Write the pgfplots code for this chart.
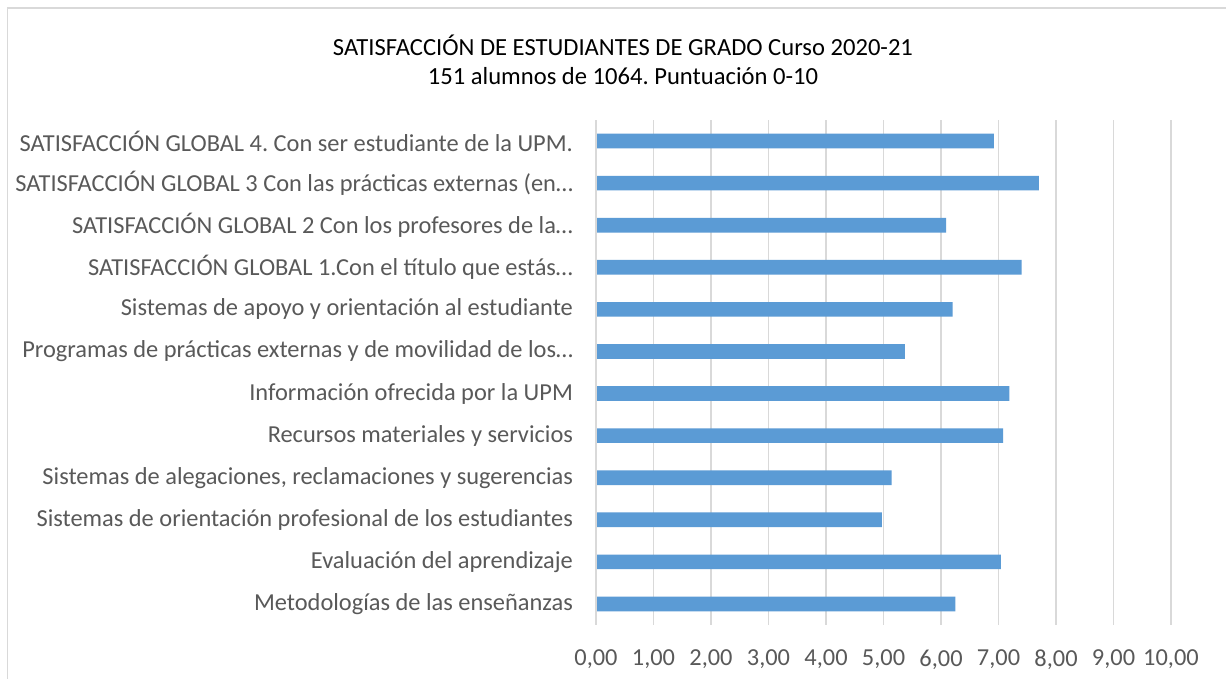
\documentclass[border=0pt]{standalone}
\usepackage{fontspec}
\setmainfont{Carlito}
\usepackage{pgfplots}
\pgfplotsset{compat=1.18}
\usepackage{pgfplotstable}
\frenchspacing
\definecolor{barblue}{HTML}{5B9BD5}
\definecolor{gridgray}{HTML}{D9D9D9}
\definecolor{labgray}{HTML}{595959}
\pgfplotstableread{
idx val
0 6.25
1 7.04
2 4.97
3 5.14
4 7.08
5 7.19
6 5.37
7 6.20
8 7.40
9 6.09
10 7.70
11 6.92
}\datatable
\begin{document}
\begin{tikzpicture}
\useasboundingbox (0pt,0pt) rectangle (613pt,339.5pt);
\fill[white] (0pt,0pt) rectangle (613pt,339.5pt);
\draw[gridgray,line width=0.75pt] (3.75pt,-5pt) -- (3.75pt,335.5pt) -- (620pt,335.5pt);
\node[font=\fontsize{12.3}{14}\selectfont,text=black] at (311.5pt,317pt) {SATISFACCIÓN DE ESTUDIANTES DE GRADO Curso 2020-21};
\node[font=\fontsize{12.3}{14}\selectfont,text=black] at (311.5pt,301.5pt) {151 alumnos de 1064. Puntuación 0-10};
\begin{axis}[
  at={(298pt,27pt)}, anchor=south west,
  scale only axis, width=287.5pt, height=252.5pt,
  xbar, bar width=7.35pt,
  xmin=0, xmax=10, ymin=-0.5, ymax=11.5,
  xtick={0,1,...,10},
  ytick={0,1,...,11},
  yticklabels={
    Metodologías de las enseñanzas,
    Evaluación del aprendizaje,
    Sistemas de orientación profesional de los estudiantes,
    {Sistemas de alegaciones, reclamaciones y sugerencias},
    Recursos materiales y servicios,
    Información ofrecida por la UPM,
    Programas de prácticas externas y de movilidad de los…,
    Sistemas de apoyo y orientación al estudiante,
    SATISFACCIÓN GLOBAL 1.Con el título que estás…,
    SATISFACCIÓN GLOBAL 2 Con los profesores de la…,
    SATISFACCIÓN GLOBAL 3 Con las prácticas externas (en…,
    SATISFACCIÓN GLOBAL 4. Con ser estudiante de la UPM.
  },
  /pgf/number format/.cd, fixed, fixed zerofill, precision=2, use comma, assume math mode=true,
  /pgfplots/.cd,
  xmajorgrids, major grid style={gridgray,line width=0.75pt},
  axis line style={draw=none},
  major tick length=0pt,
  tick style={draw=none},
  ticklabel style={font=\fontsize{12.2}{14}\selectfont,text=labgray},
  xticklabel style={yshift=-9pt},
  yticklabel style={xshift=-8pt},
  clip=false,
]
\addplot[fill=barblue,draw=none] table[x=val,y=idx]{\datatable};
\draw[gridgray,line width=0.75pt] (axis cs:0,-0.5) -- (axis cs:0,11.5);
\end{axis}
\end{tikzpicture}
\end{document}
